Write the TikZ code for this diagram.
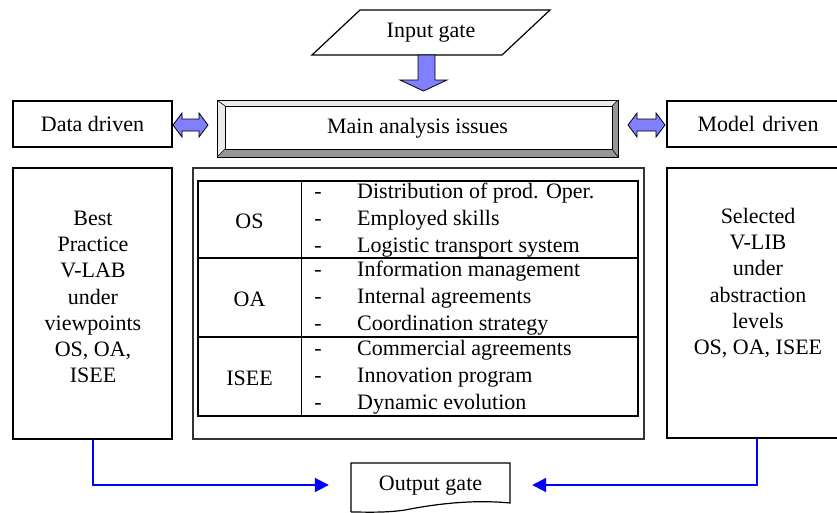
\documentclass[tikz,border=0pt]{standalone}
\usepackage{fontspec}
\setmainfont{Liberation Serif}
\usetikzlibrary{arrows.meta}
\definecolor{arrowblue}{RGB}{128,128,255}
\definecolor{bevellight}{RGB}{235,235,235}
\definecolor{beveldark}{RGB}{150,150,150}
\begin{document}
\begin{tikzpicture}[x=1pt,y=-1pt,
  font=\fontsize{22}{26.2}\selectfont,
  box/.style={draw, line width=1.2pt, inner sep=0pt},
  txt/.style={inner sep=0pt, align=center},
  items/.style={inner sep=0pt, align=left, font=\fontsize{22}{27}\selectfont},
  blockarrow/.style={draw, line width=0.8pt, fill=arrowblue, line join=miter},
  flow/.style={draw=blue, line width=2pt, -{Triangle[length=14pt,width=14pt]}, shorten >=22pt}]
\useasboundingbox (0,0) rectangle (837,512);

% Input gate
\draw[line width=1.2pt] (360,10) -- (550,10) -- (502,55) -- (312,55) -- cycle;
\node[txt] (input) at (431,33) {Input gate};

% down block arrow
\draw[blockarrow] (418,55) -- (435,55) -- (435,80) -- (447,80) -- (423.5,91) -- (400,80) -- (418,80) -- cycle;

% Main analysis issues (bevelled frame)
\fill[bevellight] (217,100) -- (618,100) -- (612,106) -- (225,106) -- cycle;
\fill[bevellight] (217,100) -- (225,106) -- (225,149) -- (217,157) -- cycle;
\fill[beveldark] (618,100) -- (618,157) -- (612,149) -- (612,106) -- cycle;
\fill[beveldark] (217,157) -- (225,149) -- (612,149) -- (618,157) -- cycle;
\draw[line width=1pt] (217,100) rectangle (618,157);
\draw[line width=1pt] (225,106) rectangle (612,149);
\draw[line width=0.6pt] (217,100) -- (225,106) (618,100) -- (612,106) (618,157) -- (612,149) (217,157) -- (225,149);
\node[txt] (main) at (417.5,128.5) {Main analysis issues};

% Data driven / Model driven
\node[box, minimum width=159pt, minimum height=46pt] (data) at (92.5,124) {Data driven};
\node[box, minimum width=182pt, minimum height=46pt, text width=182pt, align=center] (model) at (758,124) {Model driven};

% double block arrows
\draw[blockarrow] (173,125) -- (182,113) -- (182,119) -- (199,119) -- (199,113) -- (208,125) -- (199,137) -- (199,131) -- (182,131) -- (182,137) -- cycle;
\draw[blockarrow] (628,125) -- (637,113) -- (637,119) -- (656,119) -- (656,113) -- (665,125) -- (656,137) -- (656,131) -- (637,131) -- (637,137) -- cycle;

% Left box
\node[box, minimum width=159pt, minimum height=271pt] (lbox) at (92.5,303.5) {};
\node[txt] (ltext) at (93,297) {Best\\Practice\\V-LAB\\under\\viewpoints\\OS, OA,\\ISEE};

% Right box
\node[box, minimum width=182pt, minimum height=270pt] (rbox) at (758,303) {};
\node[txt] (rtext) at (758,283) {Selected\\V-LIB\\under\\abstraction\\levels\\OS, OA, ISEE};

% Middle box and table
\draw[line width=1.6pt, draw=black!80] (193,168) rectangle (644,439);
\draw[line width=1.4pt] (198,181) rectangle (638,416);
\draw[line width=1.4pt] (198,258) -- (638,258) (198,337) -- (638,337);
\draw[line width=0.9pt] (301,181) -- (301,416);

\node[txt] (os) at (249.5,221) {OS};
\node[txt] (oa) at (249.5,299) {OA};
\node[txt] (isee) at (249.5,378) {ISEE};

\node[items] (d1) at (318,220) {-\strut\\-\strut\\-\strut};
\node[items] (d2) at (318,298) {-\strut\\-\strut\\-\strut};
\node[items] (d3) at (318,377) {-\strut\\-\strut\\-\strut};

\node[items, anchor=west] (i1) at (357,220) {Distribution of prod. Oper.\strut\\Employed skills\strut\\Logistic transport system\strut};
\node[items, anchor=west] (i2) at (357,298) {Information management\strut\\Internal agreements\strut\\Coordination strategy\strut};
\node[items, anchor=west] (i3) at (357,377) {Commercial agreements\strut\\Innovation program\strut\\Dynamic evolution\strut};

% Output gate (document shape)
\draw[line width=1.2pt] (351,512) -- (351,463) -- (510,463) -- (510,503)
  .. controls (470,499) and (430,505) .. (405,510)
  .. controls (385,513) and (365,512) .. (351,512);
\node[txt, minimum width=159pt] (outgate) at (430.5,486) {Output gate};

% blue connectors
\draw[flow] (lbox.south) |- ([yshift=1pt]outgate.west);
\draw[flow] (rbox.south -| 757,0) |- ([yshift=1pt]outgate.east);
\end{tikzpicture}
\end{document}
